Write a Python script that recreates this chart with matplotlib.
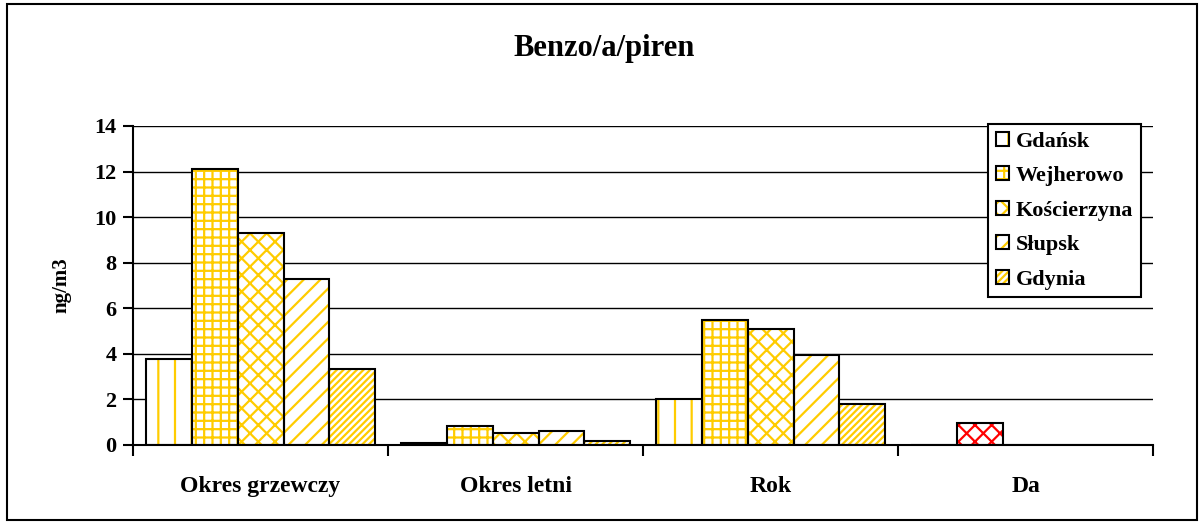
import numpy as np
import matplotlib
matplotlib.use('Agg')
import matplotlib.pyplot as plt
from matplotlib.patches import Rectangle

plt.rcParams['font.family'] = ['Liberation Serif', 'DejaVu Serif']
plt.rcParams['font.weight'] = 'bold'
plt.rcParams['axes.labelweight'] = 'bold'
plt.rcParams['hatch.linewidth'] = 1.6

categories = ['Okres grzewczy', 'Okres letni', 'Rok', 'Da']
stations = ['Gdańsk', 'Wejherowo', 'Kościerzyna', 'Słupsk', 'Gdynia']
gdansk = [3.77, 0.08, 2.0, 0]
wejherowo = [12.1, 0.83, 5.5, 0.96]
koscierzyna = [9.3, 0.54, 5.07, 0]
slupsk = [7.28, 0.61, 3.93, 0]
gdynia = [3.33, 0.17, 1.8, 0]
values = [gdansk, wejherowo, koscierzyna, slupsk, gdynia]
hatches = ['|', '++', 'xx', '//', '/////']
gold = '#FFCC00'

fig = plt.figure(figsize=(12.02, 5.24), dpi=100)
ax = fig.add_axes([0.1107, 0.1508, 0.8486, 0.6088])

x = np.arange(len(categories))
w = 0.18
handles = []
fills = []
for i, (vals, h) in enumerate(zip(values, hatches)):
    pos = x + (i - 2) * w
    fill = ax.bar(pos, vals, w, color='white', edgecolor=gold, hatch=h, linewidth=0, zorder=2)
    edge = ax.bar(pos, vals, w, fill=False, edgecolor='black', linewidth=1.5, zorder=3)
    handles.append((fill[0], edge[0]))
    fills.append(fill)

# the single "Da" bar is drawn red with the diamond pattern
fills[1][3].set_edgecolor('red')
fills[1][3].set_hatch('xx')

ax.set_xlim(-0.5, 3.5)
ax.set_ylim(0, 14)
ax.set_yticks(np.arange(0, 15, 2))
ax.yaxis.grid(True, color='black', linewidth=1)
ax.set_axisbelow(True)
for s in ['top', 'right']:
    ax.spines[s].set_visible(False)
ax.spines['left'].set_linewidth(1.5)
ax.spines['bottom'].set_linewidth(1.5)

ax.set_xticks(np.arange(-0.5, 4, 1))
ax.set_xticklabels([])
ax.set_xticks(x, minor=True)
ax.set_xticklabels(categories, minor=True, fontsize=17)
ax.tick_params(axis='x', which='major', length=8, width=1.5, direction='out')
ax.tick_params(axis='x', which='minor', length=0, pad=22)
ax.tick_params(axis='y', length=7, width=1.5, labelsize=16, pad=5)
ax.set_ylabel('ng/m3', fontsize=15, labelpad=16)

ax.legend(handles, stations, loc='upper left', bbox_to_anchor=(988 / 1202, 1 - 124 / 524),
          bbox_transform=fig.transFigure, fontsize=16, frameon=True, fancybox=False,
          edgecolor='black', framealpha=1, handlelength=0.6, handleheight=0.6,
          handletextpad=0.3, labelspacing=0.65, borderpad=0.35, borderaxespad=0)
ax.get_legend().get_frame().set_linewidth(1.5)

fig.text(0.5025, 0.908, 'Benzo/a/piren', fontsize=22, ha='center', va='center')
fig.patches.append(Rectangle((7 / 1202, 4 / 524), 1190 / 1202, 516 / 524,
                             transform=fig.transFigure, fill=False,
                             edgecolor='black', linewidth=1.5))

fig.savefig('out.png', dpi=100)
